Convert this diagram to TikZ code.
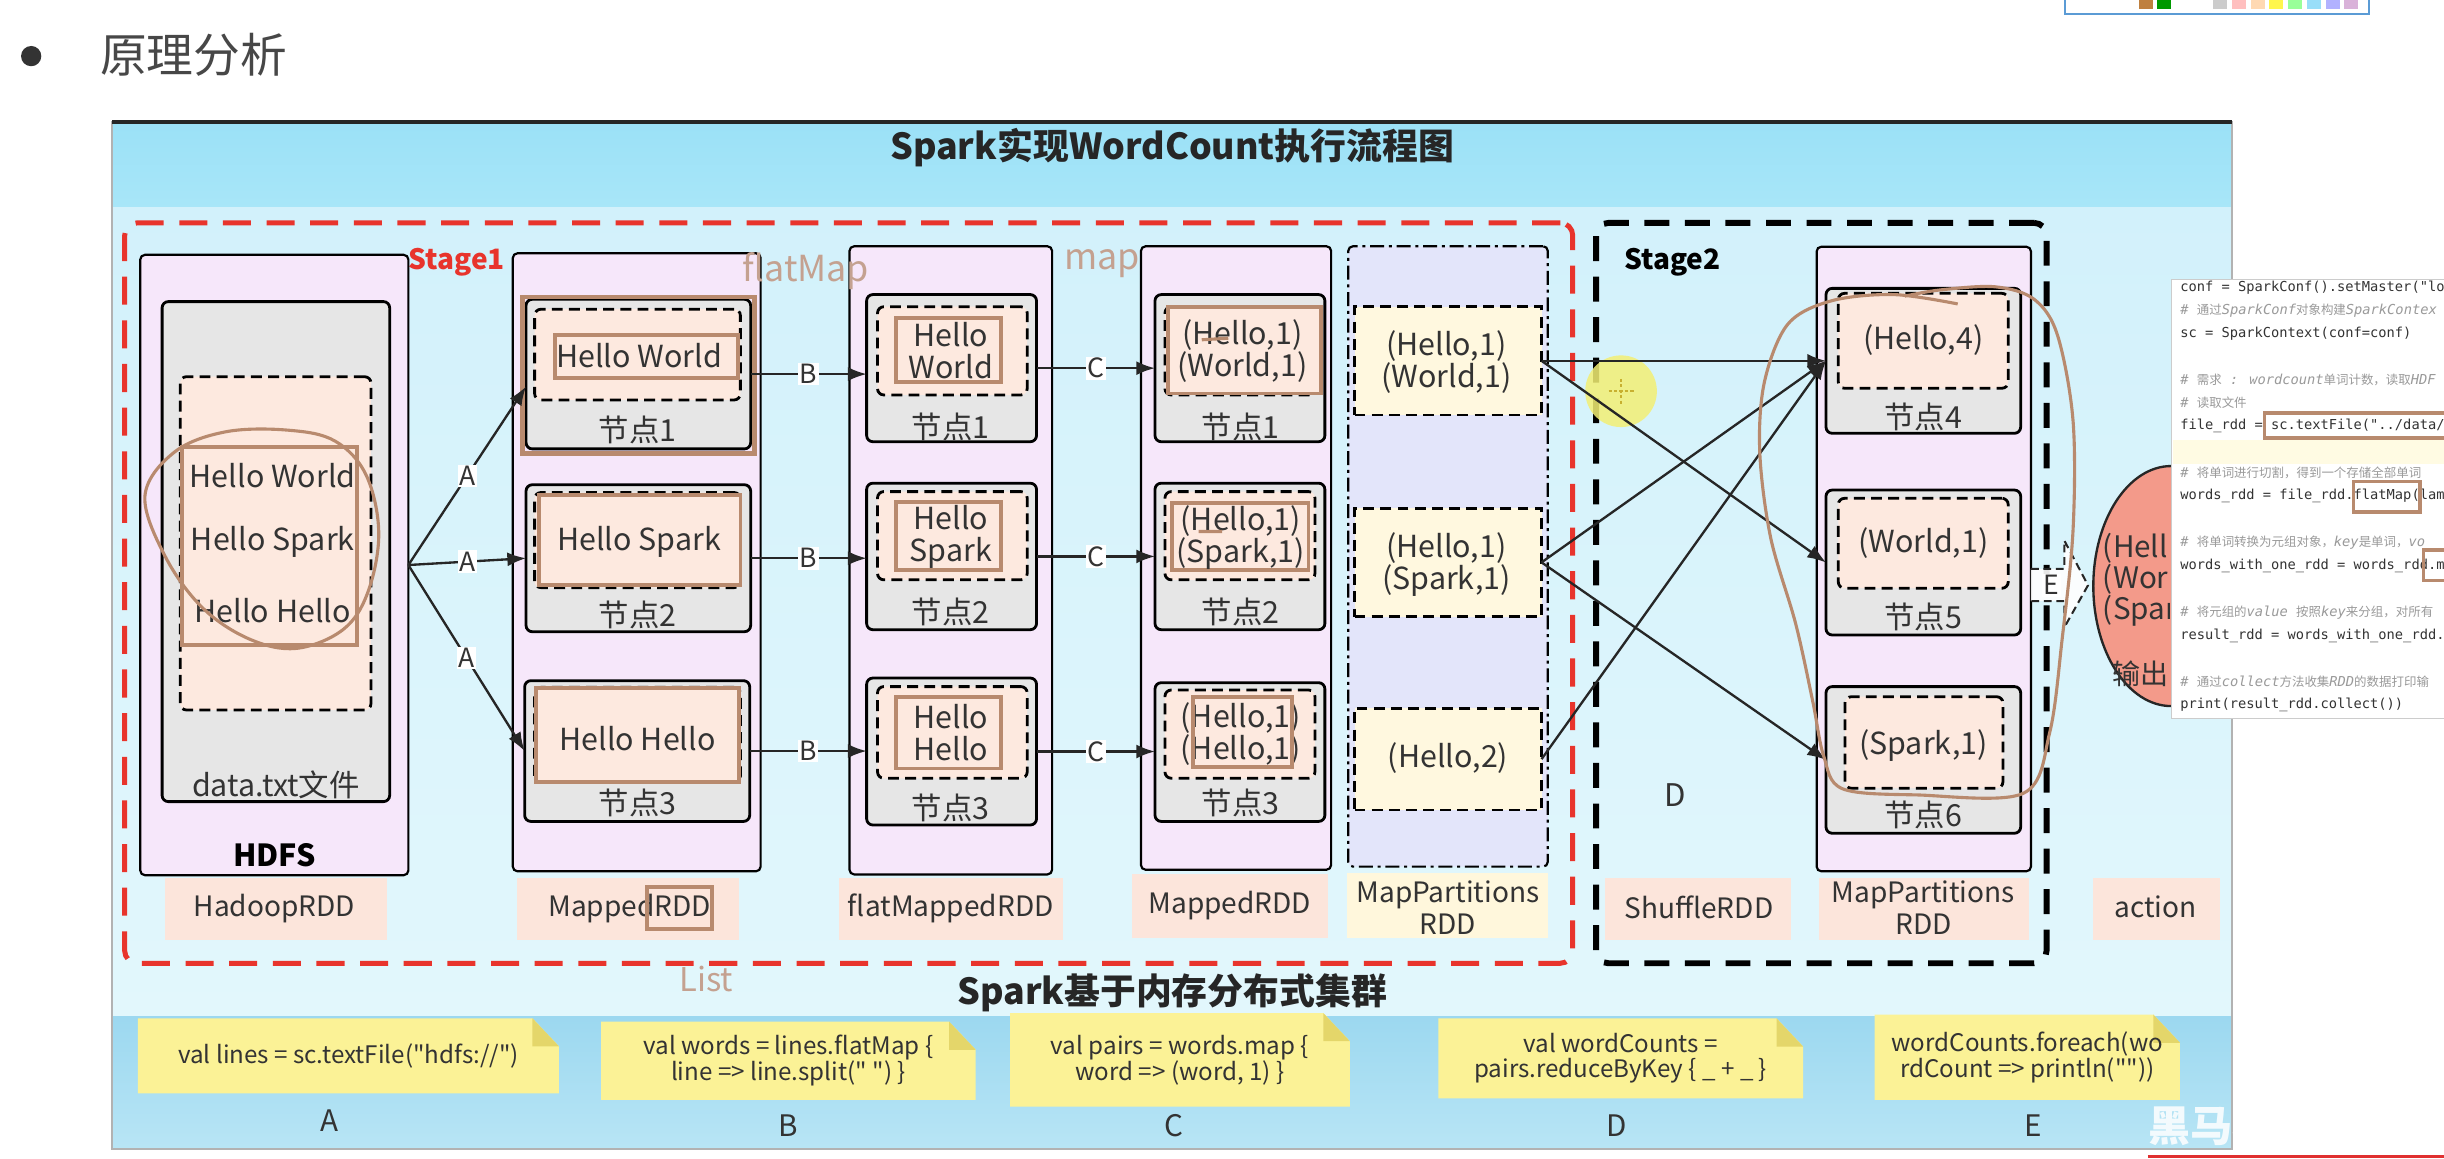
\documentclass[tikz,border=0pt]{standalone}
\usepackage{fontspec}
\setmainfont{Noto Sans CJK SC}
\newfontfamily\codefont{DejaVu Sans Mono}
\newfontfamily\zhfont{Noto Sans CJK SC}
\newfontfamily\notefont{Noto Sans CJK SC}
\usetikzlibrary{arrows.meta,calc,shapes.geometric}

\definecolor{colfill}{HTML}{F6E7FA}
\definecolor{gfill}{HTML}{E6E6E6}
\definecolor{peach}{HTML}{FDE9DF}
\definecolor{cream}{HTML}{FFF8DF}
\definecolor{cfive}{HTML}{E3E5FA}
\definecolor{lblpeach}{HTML}{FCE5DB}
\definecolor{lblcream}{HTML}{FFF7DC}
\definecolor{titleA}{HTML}{9BE1F7}
\definecolor{titleB}{HTML}{A8E6F8}
\definecolor{midA}{HTML}{D2F1FB}
\definecolor{midB}{HTML}{E2F7FC}
\definecolor{botA}{HTML}{9CD8F0}
\definecolor{botB}{HTML}{B8E5F5}
\definecolor{noteY}{HTML}{FBF296}
\definecolor{noteF}{HTML}{E4D66A}
\definecolor{brownA}{HTML}{B88A6E}
\definecolor{brownL}{HTML}{C4A190}
\definecolor{stagered}{HTML}{E8342C}
\definecolor{ellfill}{HTML}{F39A8A}
\definecolor{txt}{HTML}{333333}
\definecolor{cmt}{HTML}{9A9A9A}
\definecolor{tbblue}{HTML}{5B9BD5}
\definecolor{curY}{HTML}{F3EF74}
\definecolor{curD}{HTML}{C8B030}
\definecolor{hiY}{HTML}{FFFBE3}
\definecolor{wmred}{HTML}{E03030}

\newcommand\bx[6]{\node[#2,inner sep=0pt,outer sep=0pt,minimum width={(#5)-(#3)},minimum height={(#6)-(#4)}] (#1) at ({((#3)+(#5))/2},{((#4)+(#6))/2}) {};}
\newcommand\tx[4]{\node[tx] (#1) at (#2,#3) {#4};}
\newcommand\zh[1]{{\zhfont\upshape\fontsize{8}{9}\selectfont #1}}
\newcommand\stick[6]{%
  \fill[noteY] (#2,#3) -- ({#4-17},#3) -- (#4,{#3+18}) -- (#4,#5) -- (#2,#5) -- cycle;
  \fill[noteF] ({#4-17},#3) -- ({#4-17},{#3+18}) -- (#4,{#3+18}) -- cycle;
  \node[notetx] (#1) at ({(#2+#4)/2},{(#3+#5)/2}) {#6};}

\begin{document}
\begin{tikzpicture}[x=1pt,y=-1pt,
  colbox/.style={draw=black,line width=1.4pt,fill=colfill,rounded corners=3pt},
  gbox/.style={draw=black,line width=1.8pt,fill=gfill,rounded corners=4pt},
  dbox/.style={draw=black,line width=1.8pt,dash pattern=on 7pt off 4pt,fill=peach,rounded corners=4pt},
  brbox/.style={draw=brownA,line width=2.4pt,fill=peach},
  ybox/.style={draw=black,line width=1.8pt,dash pattern=on 7pt off 4pt,fill=cream},
  lblbox/.style={fill=lblpeach},
  tx/.style={text=txt,inner sep=0pt,font=\fontsize{19.5}{20.5}\selectfont,align=center},
  lbl/.style={text=txt,inner sep=0pt,font=\fontsize{18}{20.5}\selectfont,align=center},
  arr/.style={-{Latex[length=12pt,width=9pt]},line width=1.5pt,draw=black!85},
  alab/.style={fill=white,inner sep=1pt,text=txt,font=\fontsize{17}{17}\selectfont},
  notetx/.style={text=txt,inner sep=0pt,font=\notefont\fontsize{15.5}{16.5}\selectfont,align=center},
  letter/.style={text=black!80,inner sep=0pt,font=\fontsize{19}{19}\selectfont},
  codeline/.style={anchor=west,inner sep=0pt,text=black!80,font=\codefont\fontsize{8.8}{9}\selectfont},
  cmtline/.style={anchor=west,inner sep=0pt,text=cmt,font=\codefont\itshape\fontsize{8.8}{9}\selectfont},
  anno/.style={text=brownL,inner sep=0pt,font=\fontsize{23}{23}\selectfont}
]
\fill[white] (0,0) rectangle (1568,743);
\useasboundingbox (0,0) rectangle (1568,743);

% header
\node[circle,fill=black!80,minimum size=13,inner sep=0pt] (bullet) at (20,36) {};
\node[anchor=west,inner sep=0pt,text=black!72,font=\fontsize{30}{30}\selectfont] (hdr) at (64,35) {原理分析};
\bx{tbar}{fill=white,draw=tbblue,line width=1pt}{1325}{-4}{1520}{9}
\foreach \c [count=\i] in {brown,green!60!black,white,white,gray!40,pink,orange!30,yellow!70,green!40,cyan!40,blue!30,violet!30}
  \fill[\c] ({1360+\i*12},-1) rectangle ({1369+\i*12},6);

% bands
\shade[top color=titleA,bottom color=titleB] (72,78) rectangle (1432,133);
\shade[top color=midA,bottom color=midB] (72,133) rectangle (1432,652);
\shade[top color=botA,bottom color=botB] (72,652) rectangle (1432,737);
\draw[gray!60,line width=1pt] (72,78) rectangle (1432,737);
\draw[black!85,line width=2.5pt] (72,78) -- (1432,78);

\node[font=\bfseries\fontsize{23}{23}\selectfont,text=black!85,inner sep=0pt] (title) at (752,95) {Spark实现WordCount执行流程图};
\node[font=\bfseries\fontsize{23}{23}\selectfont,text=black!85,inner sep=0pt] (cluster) at (752,637) {Spark基于内存分布式集群};

% stages
\bx{stageA}{draw=stagered,line width=3.2pt,dash pattern=on 18pt off 10pt,rounded corners=8pt}{80}{143}{1009}{618}
\bx{stageB}{draw=black,line width=3.8pt,dash pattern=on 16pt off 10pt,rounded corners=8pt}{1024}{143}{1313}{618}
\node[font=\bfseries\fontsize{18}{18}\selectfont,text=stagered,inner sep=0pt] (s1) at (293,168) {Stage1};
\node[font=\bfseries\fontsize{18}{18}\selectfont,text=black,inner sep=0pt] (s2) at (1073,168) {Stage2};

% label boxes
\bx{l1}{lblbox}{106}{563}{248}{603}
\bx{l2}{lblbox}{332}{563}{474}{603}
\bx{l3}{lblbox}{538}{563}{682}{603}
\bx{l4}{lblbox}{726}{561}{852}{602}
\bx{l5}{fill=lblcream}{864}{560}{993}{602}
\bx{l6}{lblbox}{1030}{563}{1149}{603}
\bx{l7}{lblbox}{1167}{563}{1302}{603}
\bx{l8}{lblbox}{1343}{563}{1424}{603}
\node[lbl] (t1) at (176,583) {HadoopRDD};
\node[lbl] (t2) at (404,583) {MappedRDD};
\draw[brownA,line width=2.4pt] (415,569) rectangle (457,596);
\node[lbl] (t3) at (610,583) {flatMappedRDD};
\node[lbl] (t4) at (789,581) {MappedRDD};
\node[lbl] (t5) at (929,582) {MapPartitions\\RDD};
\node[lbl] (t6) at (1090,582) {ShuffleRDD};
\node[lbl] (t7) at (1234,582) {MapPartitions\\RDD};
\node[lbl] (t8) at (1383,582) {action};

% columns
\bx{c1}{colbox}{90}{163.5}{262}{561.5}
\bx{c2}{colbox}{329}{162.5}{488}{559}
\bx{c3}{colbox}{545}{158}{675}{561}
\bx{c4}{colbox}{732}{158}{854}{558}
\bx{c5}{draw=black,line width=1.4pt,dash pattern=on 9pt off 3pt on 2pt off 3pt,fill=cfive,rounded corners=3pt}{865}{158}{993}{556}
\bx{c6}{colbox}{1165.5}{158.3}{1303}{559}

\node[anno] (flatm) at (517,174) {flatMap};
\node[anno] (mapl) at (707,169) {map};
\node[anno,font=\fontsize{21}{21}\selectfont] (listl) at (453,628) {List};

% HDFS column
\bx{h1}{gbox}{104}{193.5}{250}{514.3}
\bx{h2}{dbox}{115.6}{241.7}{238}{455.5}
\bx{h3}{brbox}{117}{286.6}{229}{413.8}
\tx{hw1}{175}{305}{Hello World}
\tx{hw2}{175}{347.6}{Hello Spark}
\tx{hw3}{175}{391.5}{Hello Hello}
\tx{hfile}{177}{503.6}{data.txt文件}
\node[tx,font=\bfseries\fontsize{19.5}{20}\selectfont,text=black] (hdfs) at (176,548.5) {HDFS};

% column 2
\bx{n21}{gbox}{337.5}{192}{481.6}{288}
\bx{n21d}{dbox}{343}{198.4}{475}{256.6}
\bx{n21b}{brbox}{356}{215}{473.7}{242.7}
\tx{w21}{410}{228}{Hello World}
\tx{k21}{409}{276}{节点1}
\draw[brownA,line width=3pt] (335,190.5) rectangle (484,291);
\bx{n22}{gbox}{337.5}{311}{481.6}{405.3}
\bx{n22d}{dbox}{343}{316}{475}{377}
\bx{n22b}{brbox}{346}{317.6}{475}{375.3}
\tx{w22}{410}{347.5}{Hello Spark}
\tx{k22}{409}{394.6}{节点2}
\bx{n23}{gbox}{336.6}{436.7}{481}{527}
\bx{n23d}{dbox}{343}{441}{475}{502}
\bx{n23b}{brbox}{344}{441.5}{474}{501.5}
\tx{w23}{409}{473.7}{Hello Hello}
\tx{k23}{409}{515.4}{节点3}

% column 3
\bx{n31}{gbox}{556}{189}{665}{283.4}
\bx{n31d}{dbox}{563}{196.8}{659}{253.4}
\bx{n31b}{brbox}{575}{204}{642}{245}
\tx{w31}{610}{225}{Hello\\World}
\tx{k31}{610}{273.7}{节点1}
\bx{n32}{gbox}{556}{310}{665}{404}
\bx{n32d}{dbox}{563}{315.4}{659}{372}
\bx{n32b}{brbox}{575}{321.9}{642}{365.7}
\tx{w32}{610}{344.3}{Hello\\Spark}
\tx{k32}{610}{392.4}{节点2}
\bx{n33}{gbox}{556}{435}{665}{529.3}
\bx{n33d}{dbox}{563}{440.5}{659}{499.3}
\bx{n33b}{brbox}{575}{447}{642}{493}
\tx{w33}{610}{470}{Hello\\Hello}
\tx{k33}{610}{518.5}{节点3}

% column 4
\bx{n41}{gbox}{741}{189}{850}{283.4}
\bx{n41d}{dbox}{747.4}{196.8}{843.6}{253.4}
\bx{n41b}{brbox}{749.5}{196.8}{847.5}{252.4}
\tx{w41}{797}{225.4}{(Hello,1)\\(World,1)}
\tx{k41}{796}{273.7}{节点1}
\bx{n42}{gbox}{741}{310}{850}{404}
\bx{n42d}{dbox}{747.4}{315.4}{843.6}{372}
\bx{n42b}{brbox}{751.8}{322.6}{839.5}{365.7}
\tx{w42}{796}{344.8}{(Hello,1)\\(Spark,1)}
\tx{k42}{796}{392.4}{节点2}
\draw[brownA,line width=2pt] (771,218) -- (788,217) (769,341) -- (784,341);
\bx{n43}{gbox}{741}{438}{850}{527}
\bx{n43d}{dbox}{747.4}{442.7}{843.6}{499.3}
\fill[peach] (765.5,447) rectangle (828.7,492);
\tx{w43}{796}{471}{(Hello,1)\\(Hello,1)}
\draw[brownA,line width=2.4pt] (765.5,447) rectangle (828.7,492);
\tx{k43}{796}{515.4}{节点3}

% column 5
\bx{p1}{ybox}{869}{196.8}{989}{266.2}
\tx{q1}{928}{232.5}{(Hello,1)\\(World,1)}
\bx{p2}{ybox}{869}{326}{989}{395.6}
\tx{q2}{928}{362}{(Hello,1)\\(Spark,1)}
\bx{p3}{ybox}{869}{454.4}{989}{519.7}
\tx{q3}{929}{486.5}{(Hello,2)}

% column 6
\bx{n64}{gbox}{1171.5}{185}{1296.4}{278}
\bx{n64d}{dbox}{1179.4}{188.2}{1288.4}{249.1}
\tx{w64}{1234}{218.1}{(Hello,4)}
\tx{k64}{1234}{267.3}{节点4}
\bx{n65}{gbox}{1171.5}{314.4}{1296.4}{407.4}
\bx{n65d}{dbox}{1179.4}{319.7}{1288.4}{377.4}
\tx{w65}{1234}{348.6}{(World,1)}
\tx{k65}{1234}{395.6}{节点5}
\bx{n66}{gbox}{1171.5}{440.5}{1296.4}{534.6}
\bx{n66d}{dbox}{1183.7}{447}{1285}{505.7}
\tx{w66}{1234}{478}{(Spark,1)}
\tx{k66}{1234}{522.9}{节点6}

\node[tx,font=\fontsize{20}{20}\selectfont] (dlab) at (1075,510) {D};

% cursor highlight
\node[circle,fill=curY,opacity=0.85,minimum size=46,inner sep=0pt] (cursor) at (1040,251) {};
\draw[curD,line width=1.3pt,dash pattern=on 2pt off 1.5pt] ($(cursor)+(-8,0)$) -- ($(cursor)+(8,0)$) ($(cursor)+(0,-8)$) -- ($(cursor)+(0,8)$);

% arrows A
\draw[arr] (c1.east) -- ($(n21.west)+(0,8)$) node[alab,midway] (la1) {A};
\draw[arr] (c1.east) -- (n22.west) node[alab,midway] (la2) {A};
\draw[arr] (c1.east) -- (n23.west) node[alab,midway] (la3) {A};
% arrows B
\draw[arr] (n21.east) -- (n21.east -| n31.west) node[alab,midway] (lb1) {B};
\draw[arr] (n22.east) -- (n22.east -| n32.west) node[alab,midway] (lb2) {B};
\draw[arr] (n23.east) -- (n23.east -| n33.west) node[alab,midway] (lb3) {B};
% arrows C
\draw[arr] (n31.east) -- (n31.east -| n41.west) node[alab,midway] (lc1) {C};
\draw[arr] (n32.east) -- (n32.east -| n42.west) node[alab,midway] (lc2) {C};
\draw[arr] (n33.east) -- (n33.east -| n43.west) node[alab,midway] (lc3) {C};
% shuffle
\draw[arr] (p1.east) -- (n64.west);
\draw[arr] (p1.east) -- (n65.west);
\draw[arr] (p2.east) -- (n64.west);
\draw[arr] (p2.east) -- (n66.west);
\draw[arr] (p3.east) -- (n64.west);

% output ellipse (its right part is hidden by the code panel)
\node[ellipse,draw=black!85,line width=1.5pt,fill=ellfill,minimum width=100,minimum height=154,inner sep=0pt] (outp) at (1393,376) {};
\begin{scope}
\clip (1300,290) rectangle (1392,470);
\node[anchor=west,align=left,inner sep=0pt,text=txt,font=\fontsize{19}{20}\selectfont] (outt) at (1349,372) {(Hell\\(Worl\\(Spar};
\node[anchor=west,inner sep=0pt,text=txt,font=\fontsize{18}{18}\selectfont] (outl) at (1355,432) {输出};
\end{scope}

% E block arrow
\coordinate (eS) at (c6.east |- 0,375.5);
\draw[black!85,line width=1.3pt,dash pattern=on 5pt off 3pt,fill=white,fill opacity=0.9]
  (eS) ++(0,-10.5) -- ++(21.4,0) -- ++(0,-18.2) -- ++(15.2,28.7) -- ++(-15.2,27) -- ++(0,-16.8) -- ++(-21.4,0);
\node[alab,fill=white] (le) at (1316,375.5) {E};

% annotation loops
\draw[brownA,line width=2pt] plot[smooth cycle,tension=0.6] coordinates {(93,318) (112,290) (145,277) (185,276) (215,283) (235,305) (243,342) (236,380) (220,404) (190,416) (160,410) (130,390) (106,357)};
\draw[brownA,line width=2pt] plot[smooth,tension=0.55] coordinates {(1256,195) (1215,189) (1175,193) (1147,208) (1132,245) (1129,290) (1136,345) (1152,400) (1163,450) (1170,485) (1182,506) (1230,510) (1298,509) (1315,470) (1323,410) (1330,340) (1330,270) (1320,215) (1305,192) (1280,184) (1245,186) (1222,190)};

% code panel
\bx{code}{fill=white,draw=gray!40,line width=0.6pt}{1393}{179}{1590}{461}
\begin{scope}
\clip (1393,179) rectangle (1568,461);
\fill[hiY] (1394,282) rectangle (1568,298);
\node[codeline] (k1) at (1398.6,184.3) {conf = SparkConf().setMaster("lo};
\node[cmtline] (k2) at (1398.6,199.5) {\# \zh{通过}SparkConf\zh{对象构建}SparkContex};
\node[codeline] (k3) at (1398.6,213.8) {sc = SparkContext(conf=conf)};
\node[cmtline] (k4) at (1398.6,243.7) {\# \zh{需求} : wordcount\zh{单词计数，读取}HDF};
\node[cmtline] (k5) at (1398.6,258.4) {\# \zh{读取文件}};
\node[codeline] (k6) at (1398.6,273.2) {file\_rdd = sc.textFile("../data/};
\node[cmtline] (k7) at (1398.6,303.1) {\# \zh{将单词进行切割，得到一个存储全部单词}};
\node[codeline] (k8) at (1398.6,318.1) {words\_rdd = file\_rdd.flatMap(lam};
\node[cmtline] (k9) at (1398.6,348) {\# \zh{将单词转换为元组对象，}key\zh{是单词，}vo};
\node[codeline] (k10) at (1398.6,362.8) {words\_with\_one\_rdd = words\_rdd.m};
\node[cmtline] (k11) at (1398.6,393) {\# \zh{将元组的}value \zh{按照}key\zh{来分组，对所有}};
\node[codeline] (k12) at (1398.6,407.7) {result\_rdd = words\_with\_one\_rdd.};
\node[cmtline] (k13) at (1398.6,437.2) {\# \zh{通过}collect\zh{方法收集}RDD\zh{的数据打印输}};
\node[codeline] (k14) at (1398.6,452.4) {print(result\_rdd.collect())};
\draw[brownA,line width=2.2pt] (1453,265) rectangle (1580,281);
\draw[brownA,line width=2.2pt] (1509.8,309) rectangle (1552.6,328.4);
\draw[brownA,line width=2.2pt] (1555,353) rectangle (1580,372.6);
\end{scope}

% sticky notes
\stick{na}{88.5}{653.3}{358.6}{701.4}{val lines = sc.textFile("hdfs://")}
\stick{nb}{385.6}{655.5}{626}{705.7}{val words = lines.flatMap \{\\line => line.split(" ") \}}
\stick{nc}{648}{650}{866}{710}{val pairs = words.map \{\\word => (word, 1) \}}
\stick{nd}{922.8}{653.4}{1156.8}{704.6}{val wordCounts =\\pairs.reduceByKey \{ \_ + \_ \}}
\stick{ne}{1202.7}{651}{1398.6}{705.7}{wordCounts.foreach(wo\\rdCount => println(""))}
\node[letter] (lA) at (211.4,719) {A};
\node[letter] (lB) at (506,722) {B};
\node[letter] (lC) at (753,722) {C};
\node[letter] (lD) at (1037,722) {D};
\node[letter] (lE) at (1304.5,722) {E};

% watermark
\node[anchor=west,inner sep=0pt,text=white,opacity=0.85,font=\bfseries\fontsize{27}{27}\selectfont] (wm) at (1378,722) {黑马程序员};
\draw[wmred,line width=2pt] (1378,742) -- (1568,742);
\end{tikzpicture}
\end{document}
